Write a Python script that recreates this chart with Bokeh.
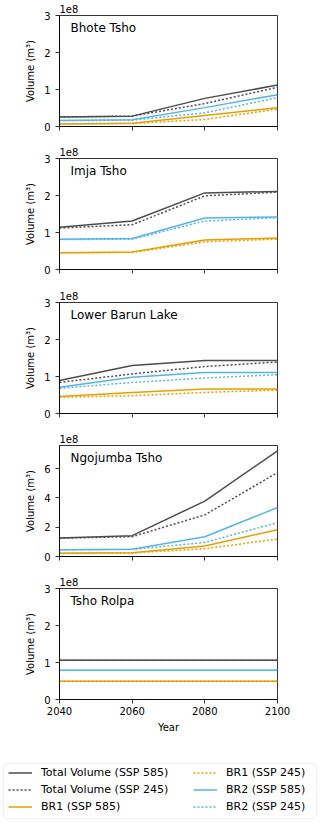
from bokeh.plotting import figure
from bokeh.models import FixedTicker, Label, Legend, LegendItem, Range1d, BoxAnnotation
from bokeh.layouts import column
from bokeh.embed import file_html
from bokeh.resources import INLINE

# ---------------- data (volumes in units of 1e8 m^3) ----------------
years = [2040, 2060, 2080, 2100]
lakes = ["Bhote Tsho", "Imja Tsho", "Lower Barun Lake", "Ngojumba Tsho", "Tsho Rolpa"]

total_ssp585 = [
    [0.26, 0.28, 0.76, 1.12],
    [1.14, 1.31, 2.07, 2.11],
    [0.89, 1.30, 1.43, 1.43],
    [1.26, 1.42, 3.78, 7.21],
    [1.06, 1.06, 1.06, 1.06],
]
total_ssp245 = [
    [0.26, 0.28, 0.62, 1.06],
    [1.12, 1.21, 1.99, 2.09],
    [0.84, 1.07, 1.27, 1.39],
    [1.25, 1.35, 2.84, 5.72],
    [1.06, 1.06, 1.06, 1.06],
]
br1_ssp585 = [
    [0.07, 0.09, 0.30, 0.51],
    [0.45, 0.47, 0.80, 0.85],
    [0.46, 0.57, 0.66, 0.66],
    [0.23, 0.25, 0.71, 1.83],
    [0.49, 0.49, 0.49, 0.49],
]
br1_ssp245 = [
    [0.07, 0.08, 0.19, 0.47],
    [0.45, 0.46, 0.75, 0.82],
    [0.44, 0.48, 0.57, 0.63],
    [0.22, 0.24, 0.53, 1.19],
    [0.49, 0.49, 0.49, 0.49],
]
br2_ssp585 = [
    [0.16, 0.18, 0.51, 0.86],
    [0.82, 0.84, 1.39, 1.42],
    [0.71, 0.98, 1.11, 1.11],
    [0.46, 0.50, 1.35, 3.34],
    [0.79, 0.79, 0.79, 0.79],
]
br2_ssp245 = [
    [0.16, 0.17, 0.37, 0.78],
    [0.81, 0.82, 1.31, 1.40],
    [0.68, 0.84, 0.96, 1.05],
    [0.45, 0.48, 0.96, 2.31],
    [0.79, 0.79, 0.79, 0.79],
]
y_max = [3, 3, 3, 7.57, 3]
y_ticks = [[0, 1, 2, 3], [0, 1, 2, 3], [0, 1, 2, 3], [0, 2, 4, 6], [0, 1, 2, 3]]
x_ticks = [2040, 2060, 2080, 2100]

series_labels = ["Total Volume (SSP 585)", "Total Volume (SSP 245)",
                 "BR1 (SSP 585)", "BR1 (SSP 245)",
                 "BR2 (SSP 585)", "BR2 (SSP 245)"]

# ---------------- styles ----------------
FONT = "DejaVu Sans"
C_TOTAL = "#4d4d4d"
C_BR1 = "#E69F00"
C_BR2 = "#56B4E9"
DOT = "2 2"
LW = 1.5
styles = [(C_TOTAL, "solid"), (C_TOTAL, DOT), (C_BR1, "solid"), (C_BR1, DOT),
          (C_BR2, "solid"), (C_BR2, DOT)]
all_series = [total_ssp585, total_ssp245, br1_ssp585, br1_ssp245, br2_ssp585, br2_ssp245]


def style_axis(ax, standoff):
    ax.axis_line_color = "black"
    ax.axis_line_width = 0.8
    ax.major_tick_line_color = "black"
    ax.major_tick_line_width = 0.8
    ax.major_tick_out = 4
    ax.major_tick_in = 0
    ax.minor_tick_line_color = None
    ax.major_label_text_font = FONT
    ax.major_label_text_font_size = "10px"
    ax.major_label_text_color = "black"
    ax.major_label_standoff = standoff
    ax.axis_label_text_font = FONT
    ax.axis_label_text_font_size = "10px"
    ax.axis_label_text_font_style = "normal"
    ax.axis_label_text_color = "black"


fig_heights = [143, 144, 143, 143, 169]
figs = []
n = len(lakes)
for i in range(n):
    last = i == n - 1
    h = fig_heights[i]
    p = figure(width=320, height=h, output_backend="svg", toolbar_location=None,
               x_range=Range1d(2040, 2100), y_range=Range1d(0, y_max[i]),
               min_border_left=59, min_border_right=43, min_border_top=15,
               min_border_bottom=h - 126)
    p.outline_line_color = "black"
    p.outline_line_width = 0.8
    p.xgrid.visible = False
    p.ygrid.visible = False
    p.background_fill_color = "white"
    p.border_fill_color = "white"

    for data, (col, dash) in zip(all_series, styles):
        p.line(years, data[i], line_color=col, line_dash=dash, line_width=LW)

    p.xaxis.ticker = FixedTicker(ticks=x_ticks)
    p.yaxis.ticker = FixedTicker(ticks=y_ticks[i])
    style_axis(p.xaxis[0], 3)
    style_axis(p.yaxis[0], 5)
    if not last:
        p.xaxis.major_label_overrides = {t: "" for t in x_ticks}
    p.yaxis.axis_label = "Volume (m³)"
    p.yaxis.axis_label_standoff = 5
    if last:
        p.xaxis.axis_label = "Year"
        p.xaxis.axis_label_standoff = 4

    p.title.text = "1e8"
    p.title.align = "left"
    p.title.text_font = FONT
    p.title.text_font_size = "10px"
    p.title.text_font_style = "normal"
    p.title.text_color = "black"
    p.title.standoff = 5
    p.title.offset = 0

    p.add_layout(Label(x=2040, y=y_max[i], text=lakes[i], text_font=FONT,
                       text_font_size="12px", text_color="black",
                       text_baseline="top", text_align="left",
                       x_offset=11, y_offset=-5))
    figs.append(p)

# ---------------- legend figure (separate root, full-width frame) ----------------
pl = figure(width=320, height=80, output_backend="svg", toolbar_location=None,
            x_range=Range1d(0, 320), y_range=Range1d(0, 80),
            min_border=0, min_border_left=0, min_border_right=0,
            min_border_top=0, min_border_bottom=0)
pl.axis.visible = False
pl.xgrid.visible = False
pl.ygrid.visible = False
pl.outline_line_color = None
pl.background_fill_color = "white"
pl.border_fill_color = "white"
pl.add_layout(BoxAnnotation(left=3, right=316, bottom=4, top=59,
                            fill_color="white", fill_alpha=0.8,
                            line_color="#cccccc", line_width=1,
                            border_radius=3))
nan = float("nan")
items = []
for lab, (col, dash) in zip(series_labels, styles):
    r = pl.line([nan], [nan], line_color=col, line_dash=dash, line_width=LW)
    items.append(LegendItem(label=lab, renderers=[r]))


def make_legend(its, loc):
    return Legend(items=its, location=loc,
                  label_text_font=FONT, label_text_font_size="11px",
                  label_text_color="black", label_height=15, glyph_height=15,
                  glyph_width=24, label_standoff=9, spacing=2, padding=0,
                  margin=0, border_line_color=None, background_fill_alpha=0)


pl.add_layout(make_legend(items[:3], (8, 8)), "center")
pl.add_layout(make_legend(items[3:], (193, 8)), "center")

layout = column(*figs)
open("out.html", "w").write(file_html([layout, pl], INLINE))
